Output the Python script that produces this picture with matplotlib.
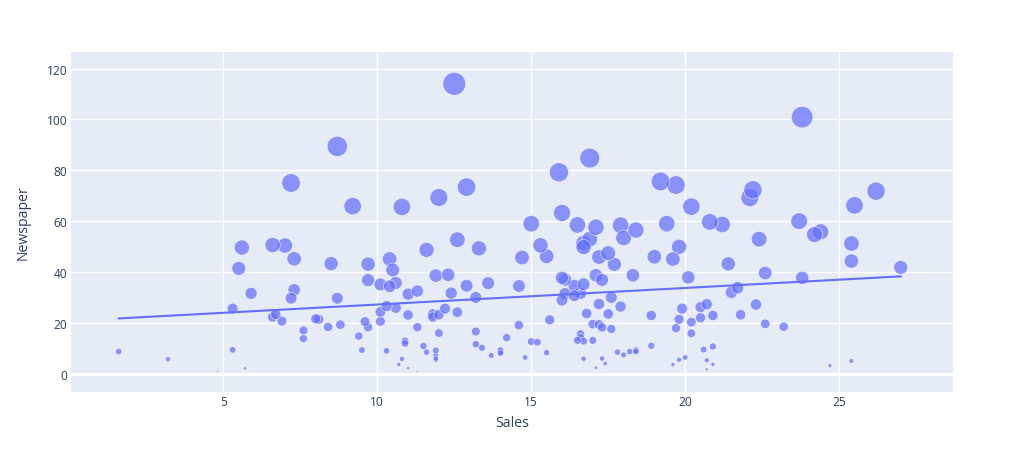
import numpy as np
import matplotlib
matplotlib.use("Agg")
import matplotlib.pyplot as plt

# Advertising data: Sales vs Newspaper (bubble size = Newspaper)
sales = [22.1, 10.4, 12.0, 16.5, 17.9, 7.2, 11.8, 13.2, 4.8, 15.6,
         12.6, 17.4, 9.2, 13.7, 19.0, 22.4, 12.5, 24.4, 11.3, 14.6,
         18.0, 17.5, 5.6, 20.5, 9.7, 17.0, 15.0, 20.9, 18.9, 10.5,
         21.4, 11.9, 13.2, 17.4, 11.9, 17.8, 25.4, 14.7, 10.1, 21.5,
         16.6, 17.1, 20.7, 17.9, 8.5, 16.1, 10.6, 23.2, 19.8, 9.7,
         16.4, 10.7, 22.6, 21.2, 20.2, 23.7, 5.5, 13.2, 23.8, 18.4,
         8.1, 24.2, 20.7, 14.0, 16.0, 11.3, 11.0, 13.4, 18.9, 22.3,
         18.3, 12.4, 8.8, 11.0, 17.0, 8.7, 6.9, 14.2, 5.3, 11.0,
         11.8, 17.3, 11.3, 13.6, 21.7, 20.2, 12.0, 16.0, 12.9, 16.7,
         14.0, 7.3, 19.4, 22.2, 11.5, 16.9, 16.7, 20.5, 25.4, 17.2,
         16.7, 23.8, 19.8, 19.7, 20.7, 15.0, 7.2, 12.0, 5.3, 19.8,
         18.4, 21.8, 17.1, 20.9, 14.6, 12.6, 12.2, 9.4, 15.9, 6.6,
         15.5, 7.0, 16.6, 15.2, 19.7, 10.6, 6.6, 11.9, 24.7, 9.7,
         1.6, 17.7, 5.7, 19.6, 10.8, 11.6, 9.5, 20.8, 9.6, 20.7,
         10.9, 19.2, 20.1, 10.4, 12.3, 10.3, 18.2, 25.4, 10.9, 10.1,
         16.1, 11.6, 16.6, 16.0, 20.6, 3.2, 15.3, 10.1, 7.3, 12.9,
         16.4, 13.3, 19.9, 18.0, 11.9, 16.9, 8.0, 17.2, 17.1, 20.0,
         8.4, 17.5, 7.6, 16.7, 16.5, 27.0, 20.2, 16.7, 16.8, 17.6,
         15.5, 17.2, 8.7, 26.2, 17.6, 22.6, 10.3, 17.3, 20.9, 6.7,
         10.8, 11.9, 5.9, 19.6, 17.3, 7.6, 14.0, 14.8, 25.5, 18.4]

newspaper = [69.2, 45.1, 69.3, 58.5, 58.4, 75.0, 23.5, 11.6, 1.0, 21.2,
             24.2, 4.0, 65.9, 7.2, 46.0, 52.9, 114.0, 55.8, 18.3, 19.1,
             53.4, 23.5, 49.6, 26.2, 18.3, 19.5, 12.6, 22.9, 22.9, 40.8,
             43.2, 38.6, 30.0, 0.3, 7.4, 8.5, 5.0, 45.7, 35.1, 32.0,
             31.6, 38.7, 1.8, 26.4, 43.3, 31.5, 35.7, 18.5, 49.9, 36.8,
             34.6, 3.6, 39.6, 58.7, 15.9, 60.0, 41.4, 16.6, 37.7, 9.3,
             21.4, 54.7, 27.3, 8.4, 28.9, 0.9, 2.2, 10.2, 11.0, 27.2,
             38.7, 31.7, 19.3, 31.3, 13.1, 89.4, 20.7, 14.2, 9.4, 23.1,
             22.3, 36.9, 32.5, 35.6, 33.8, 65.7, 16.0, 63.2, 73.4, 51.4,
             9.3, 33.0, 59.0, 72.3, 10.9, 52.9, 5.9, 22.0, 51.2, 45.9,
             49.8, 100.9, 21.4, 17.9, 5.3, 59.0, 29.7, 23.2, 25.6, 5.5,
             56.5, 23.2, 2.4, 10.7, 34.5, 52.7, 25.6, 14.8, 79.2, 22.3,
             46.2, 50.4, 15.6, 12.4, 74.2, 25.9, 50.6, 9.2, 3.2, 43.1,
             8.7, 43.0, 2.1, 45.1, 65.6, 8.5, 9.3, 59.7, 20.5, 1.7,
             12.9, 75.6, 37.9, 34.4, 38.9, 9.0, 8.7, 44.3, 11.9, 20.6,
             37.0, 48.7, 14.2, 37.7, 9.5, 5.7, 50.5, 24.3, 45.2, 34.6,
             30.7, 49.3, 25.6, 7.4, 5.4, 84.8, 21.6, 19.4, 57.6, 6.4,
             18.4, 47.4, 17.0, 12.8, 13.1, 41.8, 20.3, 35.2, 23.7, 17.6,
             8.3, 27.4, 29.7, 71.8, 30.0, 19.6, 26.6, 18.2, 3.7, 23.4,
             5.8, 6.0, 31.6, 3.6, 6.0, 13.8, 8.1, 6.4, 66.2, 8.7]

x = np.array(sales)
y = np.array(newspaper)

plt.rcParams['font.family'] = ['Open Sans', 'DejaVu Sans']

fig = plt.figure(figsize=(10.24, 4.64), dpi=100)
ax = fig.add_axes([0.0693, 0.1537, 0.8614, 0.7315])
ax.set_facecolor('#E5ECF6')

sizes = 272 * y / y.max()
ax.scatter(x, y, s=sizes, color='#636efa', alpha=0.72,
           edgecolors='white', linewidths=0.5, zorder=3)

# OLS trendline
slope, intercept = np.polyfit(x, y, 1)
xl = np.array([x.min(), x.max()])
ax.plot(xl, intercept + slope * xl, color='#636efa', lw=1.5, zorder=4)

ax.set_xlim(0.05, 28.7)
ax.set_ylim(-7.06, 126.4)
ax.set_xticks([5, 10, 15, 20, 25])
ax.set_yticks([0, 20, 40, 60, 80, 100, 120])
ax.grid(True, color='white', lw=1, zorder=0)
ax.axhline(0, color='white', lw=2, zorder=1)
ax.set_axisbelow(True)
for s in ax.spines.values():
    s.set_visible(False)
ax.tick_params(length=0, labelsize=8.64, labelcolor='#2a3f5f', pad=2.5)

ax.set_xlabel('Sales', fontsize=10.08, color='#2a3f5f', va='center')
ax.set_ylabel('Newspaper', fontsize=10.08, color='#2a3f5f', va='center')
ax.xaxis.set_label_coords(0.5, -0.0922)
ax.yaxis.set_label_coords(-0.0544, 0.5)

fig.savefig('out.png', dpi=100, facecolor='white')
